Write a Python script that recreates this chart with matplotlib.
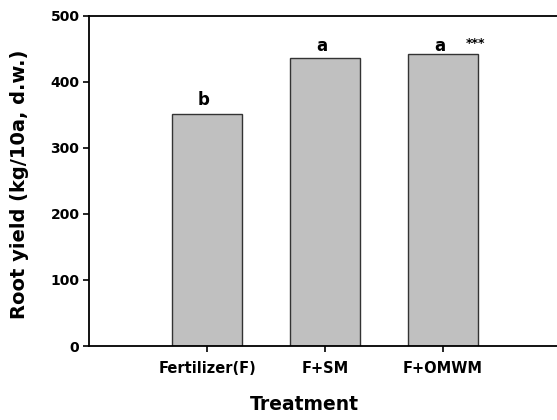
import numpy as np
import matplotlib
matplotlib.use("Agg")
import matplotlib.pyplot as plt

# data
treatments = ["Fertilizer(F)", "F+SM", "F+OMWM"]
root_yield = [351, 436, 442]
letters = ["b", "a", "a"]
letter_y = [365, 446, 446]

# DejaVu Sans Bold is wide enough to match the stretched Arial of the original
plt.rcParams["font.family"] = ["DejaVu Sans"]
plt.rcParams["font.weight"] = "bold"

fig = plt.figure(figsize=(5.57, 4.2), dpi=100)
ax = fig.add_axes([0.160, 0.176, 0.84, 0.787])

x = np.arange(1, len(treatments) + 1)
ax.bar(x, root_yield, width=0.6, color="#c0c0c0", edgecolor="#333333", linewidth=1.0)

for xi, lab, ly in zip(x, letters, letter_y):
    ax.text(xi - 0.03, ly, lab, ha="center", va="baseline", fontsize=12, fontweight="bold")
ax.text(x[-1] + 0.28, 458, "***", ha="center", va="center", fontsize=9, fontweight="bold")

ax.set_xlim(0, 3.967)
ax.set_ylim(0, 500)
ax.set_yticks([0, 100, 200, 300, 400, 500])
ax.set_xticks(x)
ax.set_xticklabels(treatments)
ax.tick_params(axis="y", labelsize=10, length=4, width=1.2, direction="out", pad=3)
ax.tick_params(axis="x", labelsize=10.5, length=4, width=1.2, direction="out", pad=7)
for t in ax.get_xticklabels() + ax.get_yticklabels():
    t.set_fontweight("bold")

ax.spines["right"].set_visible(False)
for s in ["left", "bottom", "top"]:
    ax.spines[s].set_linewidth(1.3)

ax.set_ylabel("Root yield (kg/10a, d.w.)", fontsize=14, fontweight="bold")
ax.yaxis.set_label_coords(-0.128, 0.49)
ax.set_xlabel("Treatment", fontsize=13.5, fontweight="bold")
ax.xaxis.set_label_coords(0.461, -0.148)

fig.savefig("out.png", dpi=100)
